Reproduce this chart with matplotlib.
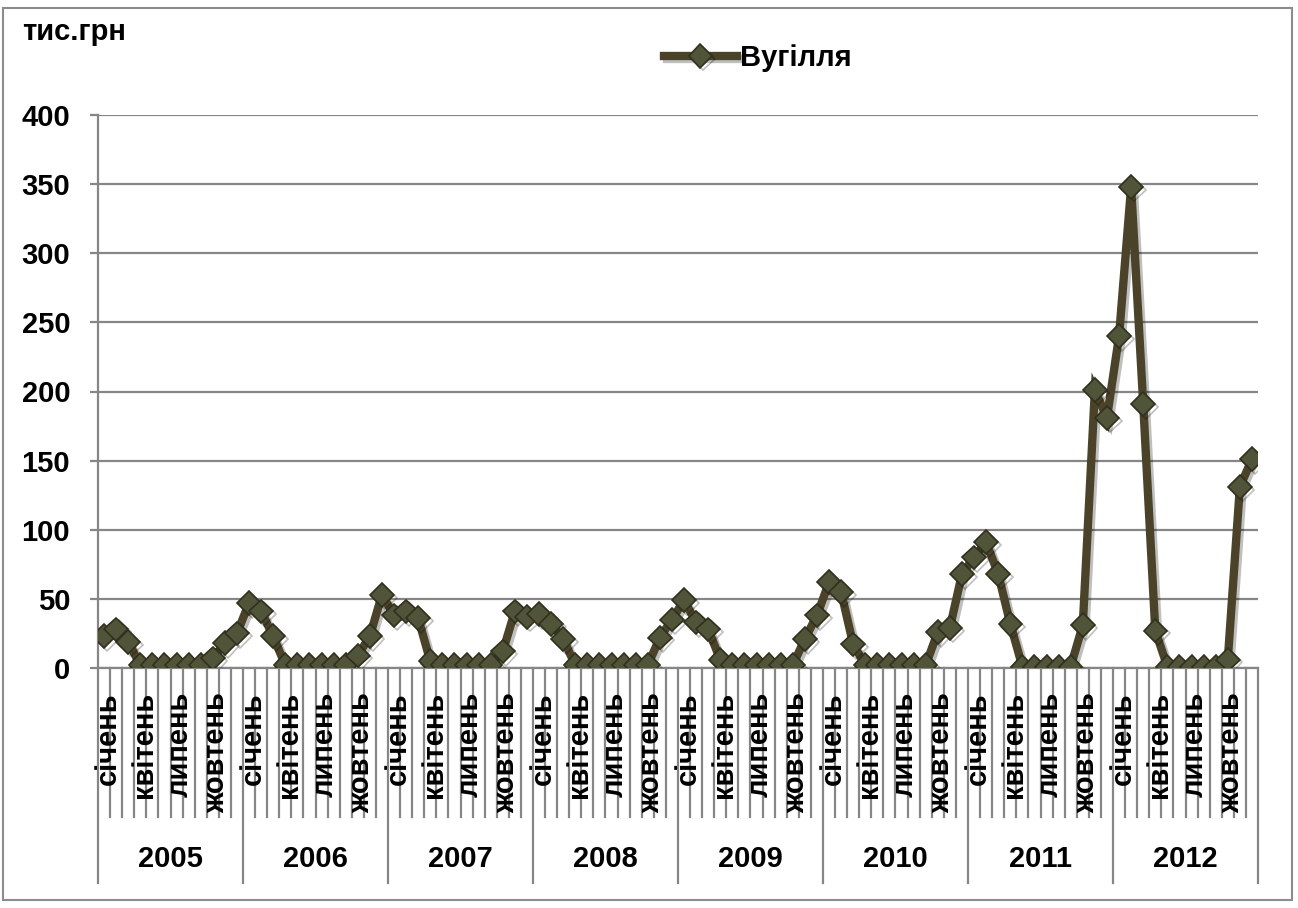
import matplotlib
matplotlib.use("Agg")
import matplotlib.pyplot as plt
import matplotlib.transforms as mtransforms
import matplotlib.patheffects as pe
from matplotlib.patches import Rectangle

plt.rcParams['font.family'] = ['Liberation Sans', 'DejaVu Sans']
plt.rcParams['font.weight'] = 'bold'

years = ['2005', '2006', '2007', '2008', '2009', '2010', '2011', '2012']
month_labels = ['січень', '', '', 'квітень', '', '', 'липень', '', '', 'жовтень', '', '']
series_name = 'Вугілля'
y_label = 'тис.грн'

v2005 = [23, 28, 19, 2, 2, 2, 2, 2, 2, 7, 18, 25]
v2006 = [47, 41, 23, 2, 2, 2, 2, 2, 2, 9, 23, 53]
v2007 = [38, 41, 36, 5, 2, 2, 2, 2, 2, 12, 41, 37]
v2008 = [39, 32, 21, 2, 2, 2, 2, 2, 2, 2, 22, 35]
v2009 = [49, 33, 28, 6, 2, 2, 2, 2, 2, 2, 21, 38]
v2010 = [62, 55, 17, 2, 2, 2, 2, 2, 2, 26, 29, 68]
v2011 = [80, 91, 68, 32, 1, 1, 1, 1, 1, 31, 201, 181]
v2012 = [240, 348, 191, 27, 1, 1, 1, 1, 1, 6, 131, 151]

values = v2005 + v2006 + v2007 + v2008 + v2009 + v2010 + v2011 + v2012
n = len(values)
x = list(range(n))

W, H = 1298, 908
fig = plt.figure(figsize=(W / 100, H / 100), dpi=100)
left, right, top, bottom = 98, 1258, 115, 668
ax = fig.add_axes([left / W, 1 - bottom / H, (right - left) / W, (bottom - top) / H])

grid_c = '#868686'
line_c = '#4a4229'
fs = 21
ax.set_xlim(-0.5, n - 0.5)
ax.set_ylim(0, 400)
ax.set_yticks(range(0, 401, 50))
ax.yaxis.grid(True, color=grid_c, lw=1.6)
ax.set_axisbelow(True)
for s in ['top', 'right']:
    ax.spines[s].set_visible(False)
ax.spines['left'].set_color(grid_c)
ax.spines['left'].set_linewidth(1.6)
ax.spines['bottom'].set_color(grid_c)
ax.spines['bottom'].set_linewidth(1.6)
ax.tick_params(axis='y', length=6, width=1.6, color=grid_c, labelsize=fs, pad=14)
ax.tick_params(axis='x', length=0, labelbottom=False)
for lab in ax.get_yticklabels():
    lab.set_fontweight('bold')

ax.plot(x, values, color=line_c, lw=6, marker='D', markersize=12,
        markerfacecolor='#50553a', markeredgecolor='#30301c', markeredgewidth=1.2,
        label=series_name, solid_joinstyle='miter', zorder=3,
        path_effects=[pe.SimpleLineShadow(offset=(2, -2), shadow_color='#000000', alpha=0.25), pe.Normal()])

trans = mtransforms.blended_transform_factory(ax.transData, ax.transAxes)
ph = bottom - top
month_bot = -(817 - bottom) / ph
year_bot = -(883 - bottom) / ph
for i in range(n + 1):
    xb = i - 0.5
    yb = year_bot if i % 12 == 0 else month_bot
    ax.plot([xb, xb], [0, yb], transform=trans, color=grid_c, lw=1.6, clip_on=False)

lab_y = -(692 - bottom) / ph
for i in range(n):
    t = month_labels[i % 12]
    if t:
        ax.text(i + 0.3, lab_y, t, transform=trans, rotation=90, ha='center', va='top',
                fontsize=fs, fontweight='bold')

yr_y = -(859 - bottom) / ph
for k, yr in enumerate(years):
    ax.text(k * 12 + 5.5, yr_y, yr, transform=trans, ha='center', va='center',
            fontsize=fs, fontweight='bold')

fig.text(22 / W, 1 - 32 / H, y_label, ha='left', va='center', fontsize=fs, fontweight='bold')

leg = ax.legend(loc='center left', bbox_to_anchor=(664 / W, 1 - 58 / H), bbox_transform=fig.transFigure,
                frameon=False, handlelength=2.5, handletextpad=0.1, borderpad=0, borderaxespad=0,
                prop={'size': fs, 'weight': 'bold'})

fig.add_artist(Rectangle((3 / W, 1 - 900 / H), 1289 / W, 892 / H, transform=fig.transFigure,
                         fill=False, edgecolor='#8c8c8c', lw=1.5))

fig.savefig('out.png', dpi=100)
